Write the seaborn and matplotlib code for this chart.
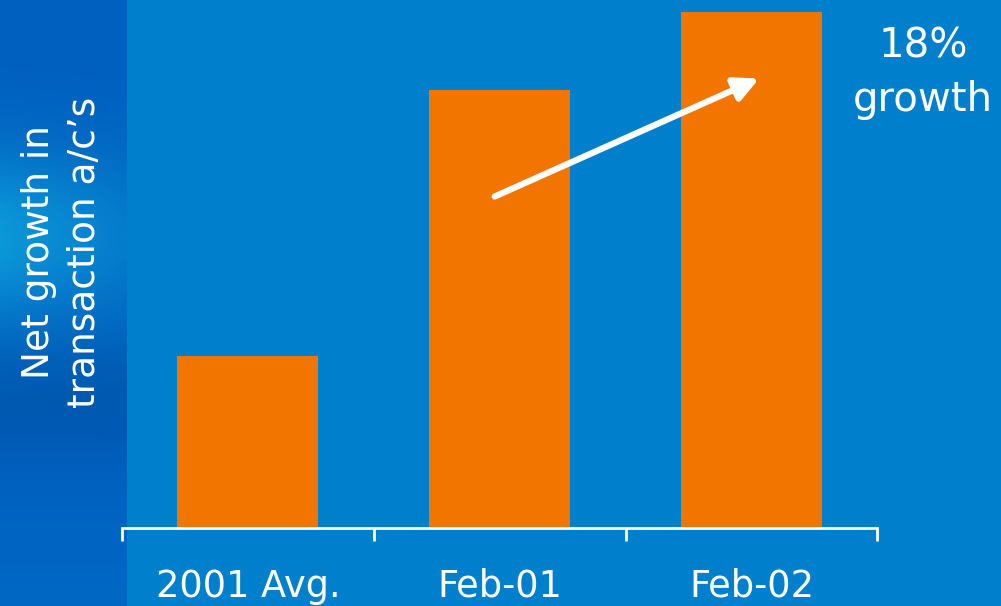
import numpy as np
import pandas as pd
import matplotlib
matplotlib.use("Agg")
import matplotlib.pyplot as plt
import seaborn as sns

# Data
categories = ["2001 Avg.", "Feb-01", "Feb-02"]
net_growth = [17.2, 43.8, 51.6]
growth_label = "18%\ngrowth"
y_label = "Net growth in\ntransaction a/c\u2019s"

BG = "#0080CC"
BAR = "#F27500"

sns.set_theme(style="white")
plt.rcParams["font.family"] = ["DejaVu Sans"]

W, H = 1001, 606
fig = plt.figure(figsize=(W / 100, H / 100), dpi=100)
fig.patch.set_facecolor(BG)

# Left decorative strip: vertical blue gradient with a soft bright band
strip = fig.add_axes([0, 0, 127 / W, 1])
strip.set_axis_off()
ys = np.linspace(0, 1, 300)[:, None]
xs = np.linspace(0, 1, 80)[None, :]
c_dark = np.array([0x00, 0x60, 0xC0]) / 255
c_light = np.array([0x0A, 0x98, 0xD8]) / 255
c_low = np.array([0x00, 0x68, 0xC4]) / 255
band = np.exp(-((ys - 0.39) / 0.14) ** 2) * (1 - 0.5 * xs)
dip = np.exp(-((ys - 0.66) / 0.10) ** 2)
tail = np.clip((ys - 0.72) / 0.28, 0, 1) * np.ones_like(xs)
base = c_dark[None, None, :] * (1 - tail[..., None]) + c_low[None, None, :] * tail[..., None]
base = base * (1 - 0.08 * dip[..., None])
img = base * (1 - band[..., None]) + c_light[None, None, :] * band[..., None]
img = np.clip(img, 0, 1)
strip.imshow(img, aspect="auto", extent=[0, 1, 0, 1], origin="upper")
strip.set_xlim(0, 1)
strip.set_ylim(0, 1)

# Main bar chart
ax = fig.add_axes([122 / W, (H - 527.5) / H, (877.5 - 122) / W, 527.5 / H])
ax.set_facecolor("none")
df = pd.DataFrame({"category": categories, "value": net_growth})
sns.barplot(data=df, x="category", y="value", color=BAR, saturation=1,
            width=0.56, ax=ax)
for p in ax.patches:
    p.set_edgecolor("none")
ax.set_xlim(-0.5, 2.5)
ax.set_ylim(0, 52.75)
for s in ["top", "right", "left"]:
    ax.spines[s].set_visible(False)
ax.spines["bottom"].set_color("white")
ax.spines["bottom"].set_linewidth(2)
ax.set_yticks([])
ax.set_xticks([-0.5, 0.5, 1.5, 2.5], minor=False)
ax.set_xticklabels([])
ax.tick_params(axis="x", which="major", direction="out", length=9, width=2,
               color="white", bottom=True)
ax.set_xticks([0, 1, 2], minor=True)
ax.set_xticklabels(categories, minor=True)
ax.tick_params(axis="x", which="minor", length=0, pad=29, labelsize=26.5,
               labelcolor="white")
ax.set_xlabel("")
ax.set_ylabel("")

# Growth arrow from Feb-01 toward Feb-02
ax.annotate("", xy=(2.03, 44.9), xytext=(0.98, 33.1),
            arrowprops=dict(arrowstyle="-|>,head_length=1.2,head_width=0.6",
                            color="white", lw=4.5, capstyle="round",
                            shrinkA=0, shrinkB=0))

fig.text(923 / W, 1 - 73 / H, growth_label, color="white", fontsize=29,
         ha="center", va="center", linespacing=1.45)

fig.text(62 / W, 1 - 252 / H, y_label, color="white", fontsize=27,
         rotation=90, ha="center", va="center", linespacing=1.35)

fig.savefig("out.png", dpi=100, facecolor=BG)
